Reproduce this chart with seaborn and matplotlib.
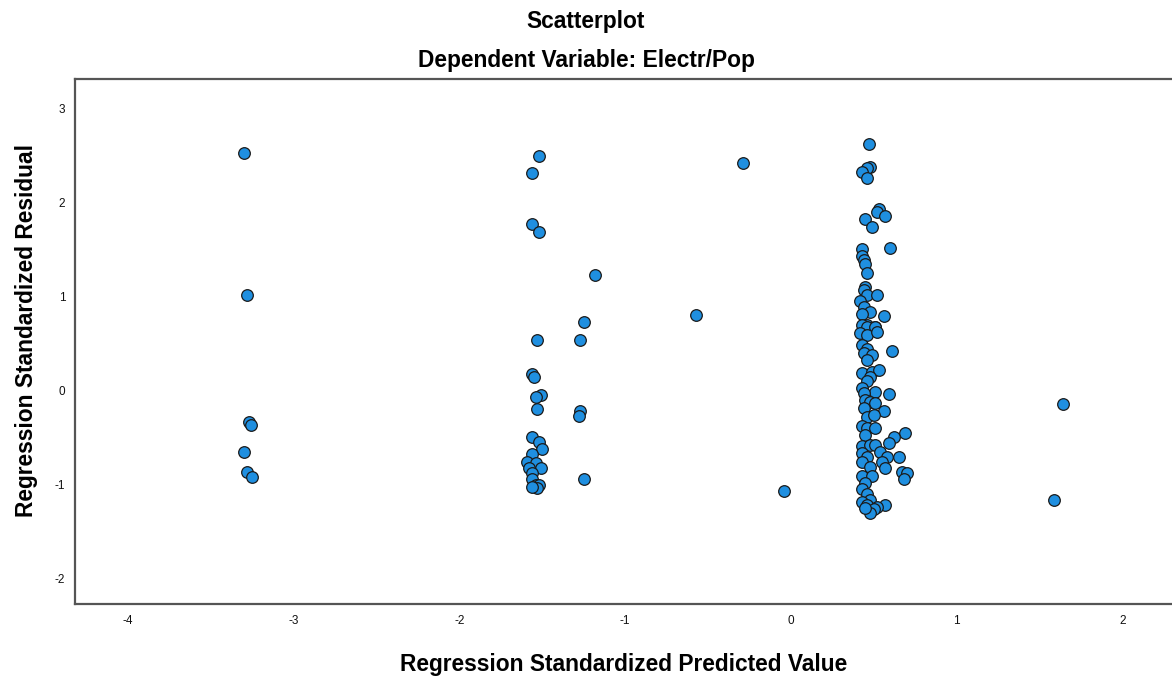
import matplotlib
matplotlib.use("Agg")
import matplotlib.pyplot as plt
import seaborn as sns
import pandas as pd

# Regression standardized predicted values (x) and residuals (y)
pred = [
    -3.30, -3.28, -3.27, -3.26, -3.30, -3.28, -3.25,
    -1.52, -1.56, -1.56, -1.52, -1.18, -1.25, -1.27, -1.53, -1.56, -1.55,
    -1.51, -1.54, -1.53, -1.27, -1.28, -1.56, -1.52, -1.50, -1.56, -1.59,
    -1.54, -1.58, -1.51, -1.56, -1.56, -1.25, -1.54, -1.52, -1.53, -1.56,
    -0.29, -0.57, -0.04, 1.64, 1.59,
    0.47, 0.48, 0.46, 0.43, 0.46, 0.53, 0.52, 0.57, 0.45, 0.49,
    0.60, 0.43, 0.43, 0.44, 0.45, 0.46, 0.45, 0.44, 0.46, 0.52,
    0.42, 0.44, 0.48, 0.56, 0.43, 0.46, 0.51, 0.43, 0.46, 0.51,
    0.42, 0.46, 0.52, 0.61, 0.43, 0.46, 0.44, 0.49, 0.46, 0.43,
    0.49, 0.53, 0.48, 0.46, 0.43, 0.51, 0.59, 0.44, 0.45, 0.48,
    0.51, 0.56, 0.44, 0.46, 0.50, 0.43, 0.46, 0.51, 0.45, 0.69,
    0.62, 0.59, 0.43, 0.48, 0.51, 0.54, 0.65, 0.43, 0.46, 0.58,
    0.55, 0.43, 0.57, 0.48, 0.67, 0.70, 0.68, 0.43, 0.49, 0.45,
    0.43, 0.46, 0.48, 0.43, 0.46, 0.57, 0.52, 0.50, 0.48, 0.45,
]
resid = [
    2.52, 1.02, -0.33, -0.37, -0.65, -0.86, -0.92,
    2.49, 2.31, 1.77, 1.69, 1.23, 0.73, 0.54, 0.54, 0.18, 0.14,
    -0.05, -0.07, -0.19, -0.22, -0.27, -0.49, -0.55, -0.62, -0.67, -0.76,
    -0.77, -0.82, -0.82, -0.87, -0.94, -0.94, -1.00, -1.00, -1.03, -1.02,
    2.42, 0.80, -1.07, -0.14, -1.16,
    2.62, 2.38, 2.36, 2.32, 2.26, 1.93, 1.90, 1.85, 1.82, 1.74,
    1.52, 1.50, 1.43, 1.39, 1.34, 1.25, 1.10, 1.07, 1.02, 1.02,
    0.95, 0.89, 0.84, 0.79, 0.81, 0.70, 0.68, 0.70, 0.68, 0.68,
    0.61, 0.59, 0.62, 0.42, 0.48, 0.44, 0.40, 0.38, 0.33, 0.19,
    0.20, 0.22, 0.15, 0.10, 0.03, -0.01, -0.04, -0.03, -0.10, -0.12,
    -0.13, -0.22, -0.18, -0.28, -0.26, -0.38, -0.40, -0.40, -0.47, -0.45,
    -0.49, -0.56, -0.59, -0.58, -0.58, -0.65, -0.70, -0.66, -0.70, -0.71,
    -0.76, -0.76, -0.82, -0.81, -0.86, -0.88, -0.94, -0.91, -0.91, -0.98,
    -1.05, -1.10, -1.16, -1.18, -1.21, -1.21, -1.24, -1.26, -1.30, -1.25,
]

x_ticks = [-4, -3, -2, -1, 0, 1, 2]
y_ticks = [-2, -1, 0, 1, 2, 3]

df = pd.DataFrame({"pred": pred, "resid": resid})

sns.set_theme(style="white")
plt.rcParams["font.family"] = ["Liberation Sans", "DejaVu Sans"]
plt.rcParams["text.color"] = "black"
plt.rcParams["axes.labelcolor"] = "black"

fig = plt.figure(figsize=(11.72, 6.77), dpi=100)
ax = fig.add_axes([0.064, 0.108, 0.936, 0.7753])

sns.scatterplot(data=df, x="pred", y="resid", ax=ax, s=70,
                color="#1f8fe0", edgecolor="#1a1a1a", linewidth=0.9,
                zorder=3, clip_on=False)

ax.set_xlim(-4.32, 2.30)
ax.set_ylim(-2.265, 3.31)
ax.set_xticks(x_ticks)
ax.set_yticks(y_ticks)
ax.set_xticklabels([str(t) for t in x_ticks], fontsize=8.5, color="#111111")
ax.set_yticklabels([str(t) for t in y_ticks], fontsize=8.5, color="#111111")
ax.tick_params(axis="x", length=0, pad=8)
ax.tick_params(axis="y", length=0, pad=7)

for side in ["left", "bottom", "top"]:
    ax.spines[side].set_visible(True)
    ax.spines[side].set_color("#555555")
    ax.spines[side].set_linewidth(1.6)
ax.spines["right"].set_visible(False)

ax.set_xlabel("Regression Standardized Predicted Value", fontsize=16.4,
              fontweight="bold", labelpad=19, color="black")
ax.set_ylabel("Regression Standardized Residual", fontsize=16.4,
              fontweight="bold", color="black")
ax.yaxis.set_label_coords(-0.034, 0.52)

fig.text(0.5, 1 - 28 / 677, "Scatterplot", ha="center", va="baseline",
         fontsize=16.4, fontweight="bold", color="black")
fig.text(0.5, 1 - 67 / 677, "Dependent Variable: Electr/Pop", ha="center",
         va="baseline", fontsize=16.4, fontweight="bold", color="black")

fig.savefig("out.png", dpi=100)
